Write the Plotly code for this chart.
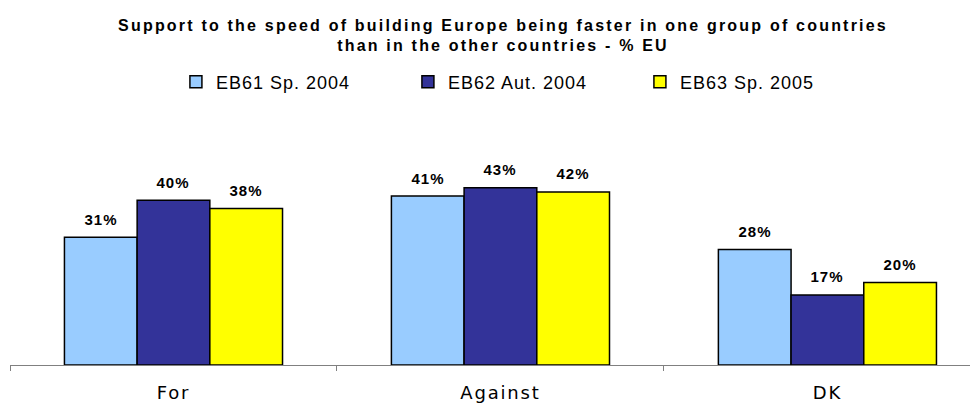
import plotly.graph_objects as go

categories = ["For", "Against", "DK"]
series_names = ["EB61 Sp. 2004", "EB62 Aut. 2004", "EB63 Sp. 2005"]
eb61 = [31, 41, 28]
eb62 = [40, 43, 17]
eb63 = [38, 42, 20]
colors = ["#99CCFF", "#333399", "#FFFF00"]

# layout geometry (the page body adds an 8px offset to the plot div)
W, H = 978, 405
ML, MR, MT, MB = 2, 0, 92, 48
XRANGE = [-0.5, 2.485]
YRANGE = [0, 64.3]
BARGAP = 0.333

plot_w = W - ML - MR
cat_px = plot_w / (XRANGE[1] - XRANGE[0])
bar_px = cat_px * (1 - BARGAP) / 3

fig = go.Figure()
all_series = [eb61, eb62, eb63]
for name, vals, col in zip(series_names, all_series, colors):
    fig.add_trace(go.Bar(
        x=categories, y=vals, name=name,
        marker=dict(color=col, line=dict(color="black", width=1.5)),
        hoverinfo="x+y+name",
    ))

annotations = []
for i, vals in enumerate(all_series):
    for c, v in zip(categories, vals):
        annotations.append(dict(
            x=c, y=v, xref="x", yref="y",
            text=f"<b>{v}%</b>", showarrow=False,
            xshift=(i - 1) * bar_px, yshift=18, yanchor="middle",
            font=dict(family="Liberation Sans, Arial", size=15, color="black"),
        ))

fig.update_layout(
    width=W, height=H,
    paper_bgcolor="white", plot_bgcolor="white",
    margin=dict(l=ML, r=MR, t=MT, b=MB, autoexpand=False),
    barmode="group", bargap=BARGAP, bargroupgap=0,
    annotations=annotations,
    title=dict(
        text="<b>Support to the speed of building Europe being faster in one group of countries<br>than in the other countries - % EU</b>",
        x=0.5 + 5 / plot_w, xanchor="center", xref="paper",
        y=1 - 22.5 / H, yanchor="middle", yref="container",
        font=dict(family="Liberation Sans, Arial", size=16, color="black"),
    ),
    legend=dict(
        orientation="h", x=0.170, xanchor="left",
        y=1 - 74 / H, yanchor="middle", yref="container",
        entrywidth=187, entrywidthmode="pixels",
        font=dict(family="Liberation Sans, Arial", size=18, color="black"),
        traceorder="normal", bgcolor="rgba(0,0,0,0)",
    ),
    showlegend=True,
)
fig.update_xaxes(
    type="category", range=XRANGE,
    showline=True, linecolor="#808080", linewidth=1,
    ticks="outside", tickson="boundaries", ticklen=5, tickcolor="#808080",
    tickfont=dict(family="DejaVu Sans, Verdana", size=18, color="black"),
    ticklabelstandoff=11,
    showgrid=False, zeroline=False,
)
fig.update_yaxes(range=YRANGE, visible=False, showgrid=False, zeroline=False)

post = """
var gd = document.getElementById('{plot_id}');
function sp(sel, v){ gd.querySelectorAll(sel).forEach(function(e){ e.style.letterSpacing = v; }); }
sp('.gtitle', '2.2px');
sp('.xtick text', '1.8px');
sp('.annotation-text', '1px');
sp('.legendtext', '1px');
"""

fig.write_html("out.html", post_script=post)
